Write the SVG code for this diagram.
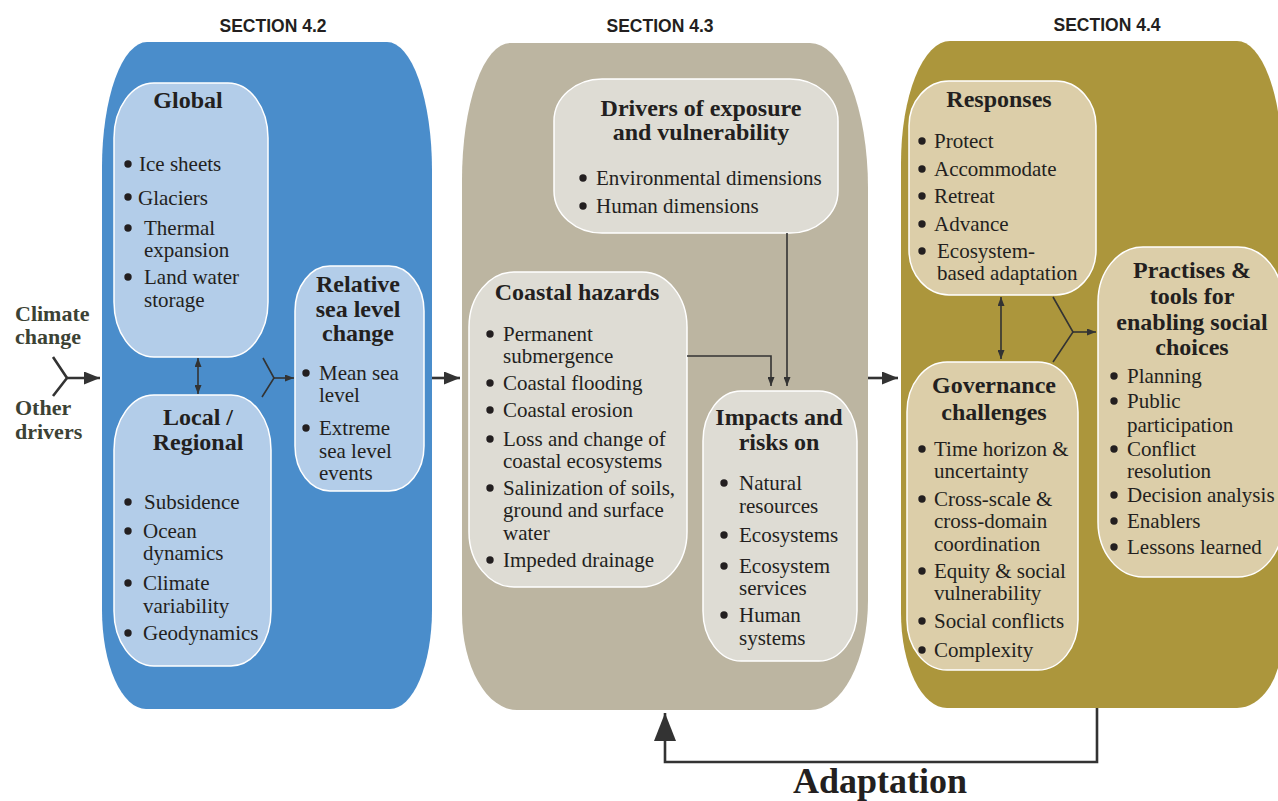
<svg xmlns="http://www.w3.org/2000/svg" width="1278" height="801" viewBox="0 0 1278 801">
<style>
.sec{font-family:"Liberation Sans",Arial,sans-serif;font-weight:bold;font-size:17.5px;fill:#231f20;text-anchor:middle}
.ttl{font-family:"Liberation Serif","Times New Roman",serif;font-weight:bold;font-size:24px;fill:#231f20;text-anchor:middle}
.txt{font-family:"Liberation Serif","Times New Roman",serif;font-size:21px;fill:#231f20}
.drv{font-family:"Liberation Serif","Times New Roman",serif;font-weight:bold;font-size:22px;fill:#3c4234}
.big{font-family:"Liberation Serif","Times New Roman",serif;font-weight:bold;font-size:36px;fill:#231f20;text-anchor:middle}
.b42{fill:#b3cde9;stroke:#fff;stroke-width:1.5}
.b43{fill:#dedcd4;stroke:#fff;stroke-width:1.5}
.b44{fill:#dccea9;stroke:#fff;stroke-width:1.5}
.dot{fill:#231f20}
.thin{fill:none;stroke:#333;stroke-width:1.6}
.thick{fill:none;stroke:#333;stroke-width:2.6}
</style>
<defs>
<marker id="ah" viewBox="0 0 10 10" refX="10" refY="5" markerWidth="9" markerHeight="7" markerUnits="userSpaceOnUse" orient="auto-start-reverse" preserveAspectRatio="none"><path d="M0,0 L10,5 L0,10 z" fill="#333"/></marker>
<marker id="ahb" viewBox="0 0 10 10" refX="10" refY="5" markerWidth="16" markerHeight="13" markerUnits="userSpaceOnUse" orient="auto" preserveAspectRatio="none"><path d="M0,0 L10,5 L0,10 z" fill="#333"/></marker>
<marker id="aha" viewBox="0 0 10 10" refX="10" refY="5" markerWidth="28" markerHeight="22" markerUnits="userSpaceOnUse" orient="auto" preserveAspectRatio="none"><path d="M0,0 L10,5 L0,10 z" fill="#333"/></marker>
</defs>
<rect width="1278" height="801" fill="#fff"/>

<g id="section-42">
<path d="M102,167 A45,125 0 0 1 147,42 H387 A45,128 0 0 1 432,170 V610 A42,99 0 0 1 390,709 H146 A44,99 0 0 1 102,610 Z" fill="#4a8dcb"/>
<text class="sec" x="273" y="32">SECTION 4.2</text>
</g>
<g id="section-43">
<path d="M462,180 A48,137 0 0 1 510,43 H810 A58,145 0 0 1 868,188 V600 A58,110 0 0 1 810,710 H517 A55,97 0 0 1 462,613 Z" fill="#bcb5a1"/>
<text class="sec" x="660" y="32">SECTION 4.3</text>
</g>
<g id="section-44">
<path d="M901,163 A49,122 0 0 1 950,41 H1237 A45,120 0 0 1 1282,161 V640 A45,68 0 0 1 1237,708 H947 A46,95 0 0 1 901,613 Z" fill="#ac963c"/>
<text class="sec" x="1107" y="31">SECTION 4.4</text>
</g>

<g id="drivers-input">
<text class="drv" x="15" y="321">Climate</text>
<text class="drv" x="15" y="344">change</text>
<text class="drv" x="15" y="415">Other</text>
<text class="drv" x="15" y="439">drivers</text>
</g>

<g id="global">
<rect class="b42" x="114" y="83" width="154" height="274" rx="40" ry="55"/>
<text class="ttl" x="188" y="108">Global</text>
<circle class="dot" cx="128" cy="164" r="3.7"/><text class="txt" x="139" y="171">Ice sheets</text>
<circle class="dot" cx="128" cy="197" r="3.7"/><text class="txt" x="138" y="205">Glaciers</text>
<circle class="dot" cx="128" cy="228" r="3.7"/><text class="txt" x="144" y="235">Thermal</text><text class="txt" x="144" y="257">expansion</text>
<circle class="dot" cx="128" cy="277" r="3.7"/><text class="txt" x="144" y="284">Land water</text><text class="txt" x="144" y="307">storage</text>
</g>

<g id="local-regional">
<rect class="b42" x="114" y="395" width="157" height="271" rx="40" ry="55"/>
<text class="ttl" x="198" y="425">Local /</text>
<text class="ttl" x="198" y="450">Regional</text>
<circle class="dot" cx="128" cy="502" r="3.7"/><text class="txt" x="144" y="509">Subsidence</text>
<circle class="dot" cx="128" cy="531" r="3.7"/><text class="txt" x="143" y="538">Ocean</text><text class="txt" x="143" y="560">dynamics</text>
<circle class="dot" cx="128" cy="583" r="3.7"/><text class="txt" x="143" y="590">Climate</text><text class="txt" x="143" y="613">variability</text>
<circle class="dot" cx="128" cy="633" r="3.7"/><text class="txt" x="143" y="640">Geodynamics</text>
</g>

<g id="relative-sea-level">
<rect class="b42" x="295" y="266" width="129" height="225" rx="35" ry="45"/>
<text class="ttl" x="358" y="292">Relative</text>
<text class="ttl" x="358" y="317">sea level</text>
<text class="ttl" x="358" y="341">change</text>
<circle class="dot" cx="306" cy="373" r="3.7"/><text class="txt" x="319" y="380">Mean sea</text><text class="txt" x="319" y="402">level</text>
<circle class="dot" cx="306" cy="428" r="3.7"/><text class="txt" x="319" y="435">Extreme</text><text class="txt" x="319" y="458">sea level</text><text class="txt" x="319" y="480">events</text>
</g>

<g id="drivers-exposure">
<rect class="b43" x="554" y="79" width="284" height="154" rx="48" ry="42"/>
<text class="ttl" x="701" y="116">Drivers of exposure</text>
<text class="ttl" x="701" y="140">and vulnerability</text>
<circle class="dot" cx="583" cy="178" r="3.7"/><text class="txt" x="596" y="185">Environmental dimensions</text>
<circle class="dot" cx="583" cy="206" r="3.7"/><text class="txt" x="596" y="213">Human dimensions</text>
</g>

<g id="coastal-hazards">
<rect class="b43" x="469" y="272" width="218" height="315" rx="45" ry="55"/>
<text class="ttl" x="577" y="300">Coastal hazards</text>
<circle class="dot" cx="490" cy="334" r="3.7"/><text class="txt" x="503" y="341">Permanent</text><text class="txt" x="503" y="363">submergence</text>
<circle class="dot" cx="490" cy="383" r="3.7"/><text class="txt" x="503" y="390">Coastal flooding</text>
<circle class="dot" cx="490" cy="410" r="3.7"/><text class="txt" x="503" y="417">Coastal erosion</text>
<circle class="dot" cx="490" cy="439" r="3.7"/><text class="txt" x="503" y="446">Loss and change of</text><text class="txt" x="503" y="468">coastal ecosystems</text>
<circle class="dot" cx="490" cy="488" r="3.7"/><text class="txt" x="503" y="495">Salinization of soils,</text><text class="txt" x="503" y="517">ground and surface</text><text class="txt" x="503" y="540">water</text>
<circle class="dot" cx="490" cy="560" r="3.7"/><text class="txt" x="503" y="567">Impeded drainage</text>
</g>

<g id="impacts-risks">
<rect class="b43" x="703" y="391" width="154" height="270" rx="38" ry="50"/>
<text class="ttl" x="779" y="425">Impacts and</text>
<text class="ttl" x="779" y="450">risks on</text>
<circle class="dot" cx="724" cy="483" r="3.7"/><text class="txt" x="739" y="490">Natural</text><text class="txt" x="739" y="513">resources</text>
<circle class="dot" cx="724" cy="535" r="3.7"/><text class="txt" x="739" y="542">Ecosystems</text>
<circle class="dot" cx="724" cy="566" r="3.7"/><text class="txt" x="739" y="573">Ecosystem</text><text class="txt" x="739" y="595">services</text>
<circle class="dot" cx="724" cy="615" r="3.7"/><text class="txt" x="739" y="622">Human</text><text class="txt" x="739" y="645">systems</text>
</g>

<g id="responses">
<rect class="b44" x="909" y="81" width="187" height="214" rx="40" ry="45"/>
<text class="ttl" x="999" y="107">Responses</text>
<circle class="dot" cx="922" cy="141" r="3.7"/><text class="txt" x="934" y="148">Protect</text>
<circle class="dot" cx="922" cy="169" r="3.7"/><text class="txt" x="934" y="176">Accommodate</text>
<circle class="dot" cx="922" cy="196" r="3.7"/><text class="txt" x="934" y="203">Retreat</text>
<circle class="dot" cx="922" cy="224" r="3.7"/><text class="txt" x="934" y="231">Advance</text>
<circle class="dot" cx="922" cy="251" r="3.7"/><text class="txt" x="937" y="258">Ecosystem-</text><text class="txt" x="937" y="280">based adaptation</text>
</g>

<g id="practises-tools">
<rect class="b44" x="1098" y="247" width="185" height="330" rx="45" ry="55"/>
<text class="ttl" x="1192" y="278">Practises &amp;</text>
<text class="ttl" x="1192" y="304">tools for</text>
<text class="ttl" x="1192" y="330">enabling social</text>
<text class="ttl" x="1192" y="355">choices</text>
<circle class="dot" cx="1114" cy="376" r="3.7"/><text class="txt" x="1127" y="383">Planning</text>
<circle class="dot" cx="1114" cy="401" r="3.7"/><text class="txt" x="1127" y="408">Public</text><text class="txt" x="1127" y="432">participation</text>
<circle class="dot" cx="1114" cy="449" r="3.7"/><text class="txt" x="1127" y="456">Conflict</text><text class="txt" x="1127" y="478">resolution</text>
<circle class="dot" cx="1114" cy="495" r="3.7"/><text class="txt" x="1127" y="502">Decision analysis</text>
<circle class="dot" cx="1114" cy="521" r="3.7"/><text class="txt" x="1127" y="528">Enablers</text>
<circle class="dot" cx="1114" cy="547" r="3.7"/><text class="txt" x="1127" y="554">Lessons learned</text>
</g>

<g id="governance">
<rect class="b44" x="907" y="362" width="171" height="308" rx="40" ry="50"/>
<text class="ttl" x="994" y="393">Governance</text>
<text class="ttl" x="994" y="420">challenges</text>
<circle class="dot" cx="922" cy="449" r="3.7"/><text class="txt" x="934" y="456">Time horizon &amp;</text><text class="txt" x="934" y="478">uncertainty</text>
<circle class="dot" cx="922" cy="499" r="3.7"/><text class="txt" x="934" y="506">Cross-scale &amp;</text><text class="txt" x="934" y="528">cross-domain</text><text class="txt" x="934" y="551">coordination</text>
<circle class="dot" cx="922" cy="571" r="3.7"/><text class="txt" x="934" y="578">Equity &amp; social</text><text class="txt" x="934" y="600">vulnerability</text>
<circle class="dot" cx="922" cy="621" r="3.7"/><text class="txt" x="934" y="628">Social conflicts</text>
<circle class="dot" cx="922" cy="650" r="3.7"/><text class="txt" x="934" y="657">Complexity</text>
</g>

<g id="connectors">
<path class="thick" d="M53,357 L67,378 L53,396"/>
<path class="thick" d="M67,378 H100" marker-end="url(#ahb)"/>
<path class="thin" d="M198,358 V394" marker-start="url(#ah)" marker-end="url(#ah)"/>
<path class="thin" d="M263,358 L274,378 L262,397"/>
<path class="thin" d="M274,378 H294" marker-end="url(#ah)"/>
<path class="thick" d="M432,378 H460" marker-end="url(#ahb)"/>
<path class="thick" d="M868,378 H898" marker-end="url(#ahb)"/>
<path class="thin" d="M687,356 H771 V386" marker-end="url(#ah)"/>
<path class="thin" d="M787,233 V386" marker-end="url(#ah)"/>
<path class="thin" d="M1001,297 V359" marker-start="url(#ah)" marker-end="url(#ah)"/>
<path class="thin" d="M1053,297 L1073,332 L1053,362"/>
<path class="thin" d="M1073,332 H1096" marker-end="url(#ah)"/>
<path class="thick" d="M1097,708 V762 H665 V713" marker-end="url(#aha)"/>
<text class="big" x="880" y="793">Adaptation</text>
</g>
</svg>
